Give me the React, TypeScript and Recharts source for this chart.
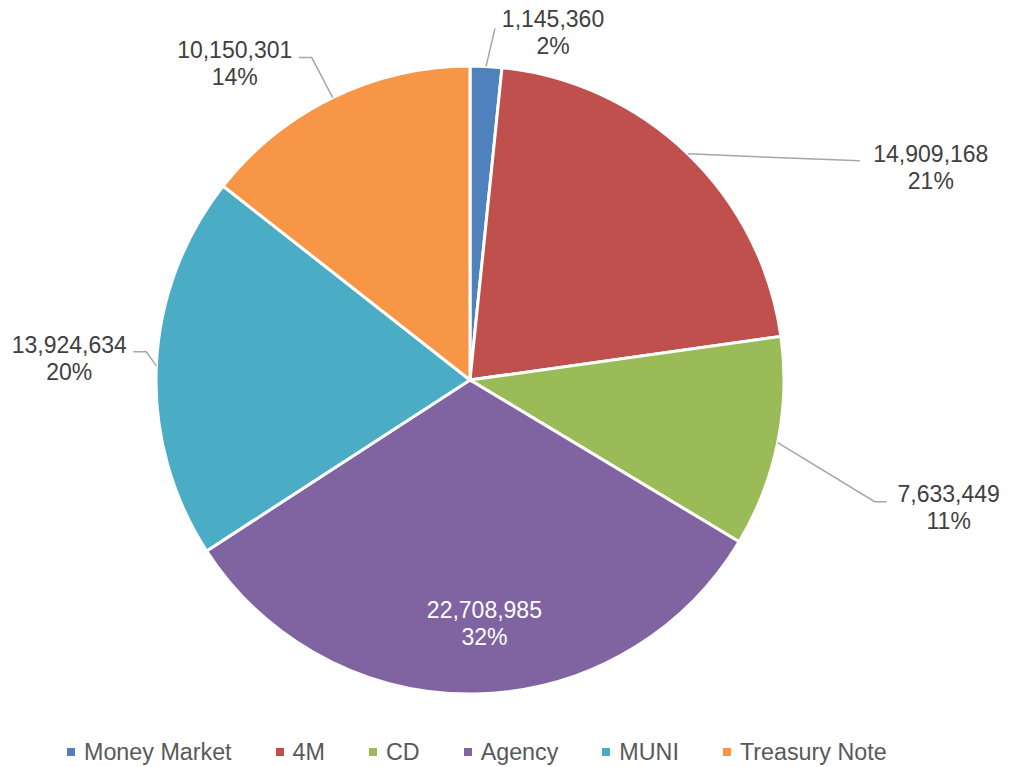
import React from "react";
import { PieChart, Pie, Cell, Legend } from "recharts";

const categories = ["Money Market", "4M", "CD", "Agency", "MUNI", "Treasury Note"];
const values = [1145360, 14909168, 7633449, 22708985, 13924634, 10150301];
const colors = ["#4F81BD", "#C0504D", "#9BBB59", "#8064A2", "#4BACC6", "#F79646"];

const data = categories.map((name, i) => ({ name, value: values[i] }));

// label layout: text offset and leader line points, relative to the slice's outer edge point at its mid angle
const labelLayout = [
  { tx: 67, ty: -39, leader: [[0, 0], [9, -38]], color: "#404040" },
  { tx: 243, ty: 8, leader: [[0, 0], [172, 7]], color: "#404040" },
  { tx: 171, ty: 59, leader: [[0, 0], [97, 59], [109, 59]], color: "#404040" },
  { tx: 9, ty: -76, leader: [], color: "#FFFFFF" },
  { tx: -87, ty: -13, leader: [[0, 0], [-10, -14], [-23, -14]], color: "#404040" },
  { tx: -98, ty: -40, leader: [[0, 0], [-21, -40], [-34, -40]], color: "#404040" },
];

const RAD = Math.PI / 180;

const renderLabel = (props: any) => {
  const { cx, cy, midAngle, outerRadius, index, value, percent } = props;
  const ex = cx + outerRadius * Math.cos(-midAngle * RAD);
  const ey = cy + outerRadius * Math.sin(-midAngle * RAD);
  const L = labelLayout[index];
  const pts = L.leader.map(([dx, dy]) => `${ex + dx},${ey + dy}`).join(" ");
  const x = ex + L.tx;
  const y = ey + L.ty;
  return (
    <g key={`lbl-${index}`}>
      {L.leader.length > 0 && (
        <polyline points={pts} fill="none" stroke="#A6A6A6" strokeWidth={1.5} />
      )}
      <text
        x={x}
        y={y}
        textAnchor="middle"
        fill={L.color}
        fontSize={23}
        fontFamily="'Liberation Sans', Arial, sans-serif"
      >
        <tspan x={x} y={y}>{Number(value).toLocaleString("en-US")}</tspan>
        <tspan x={x} y={y + 27}>{`${Math.round(percent * 100)}%`}</tspan>
      </text>
    </g>
  );
};

const renderLegend = () => (
  <div
    style={{
      display: "flex",
      alignItems: "center",
      paddingLeft: 67,
      fontFamily: "'Liberation Sans', Arial, sans-serif",
      fontSize: 23.3,
      color: "#595959",
      height: 30,
    }}
  >
    {categories.map((c, i) => (
      <div key={c} style={{ display: "flex", alignItems: "center", marginRight: 44 }}>
        <div style={{ width: 8, height: 8, background: colors[i], marginRight: 9 }} />
        <span style={{ whiteSpace: "nowrap" }}>{c}</span>
      </div>
    ))}
  </div>
);

export default function App() {
  return (
    <div style={{ position: "absolute", left: 0, top: 0, width: 1012, height: 767, background: "#fff" }}>
      <PieChart width={1012} height={767} margin={{ top: 0, right: 0, bottom: 0, left: 0 }}>
        <Pie
          data={data}
          dataKey="value"
          nameKey="name"
          cx={470}
          cy={380}
          outerRadius={314}
          startAngle={90}
          endAngle={-270}
          stroke="#FFFFFF"
          strokeWidth={3}
          label={renderLabel}
          labelLine={false}
          isAnimationActive={false}
        >
          {data.map((d, i) => (
            <Cell key={d.name} fill={colors[i]} />
          ))}
        </Pie>
        <Legend
          content={renderLegend}
          wrapperStyle={{ position: "absolute", left: 0, top: 737, width: 1012 }}
        />
      </PieChart>
    </div>
  );
}
